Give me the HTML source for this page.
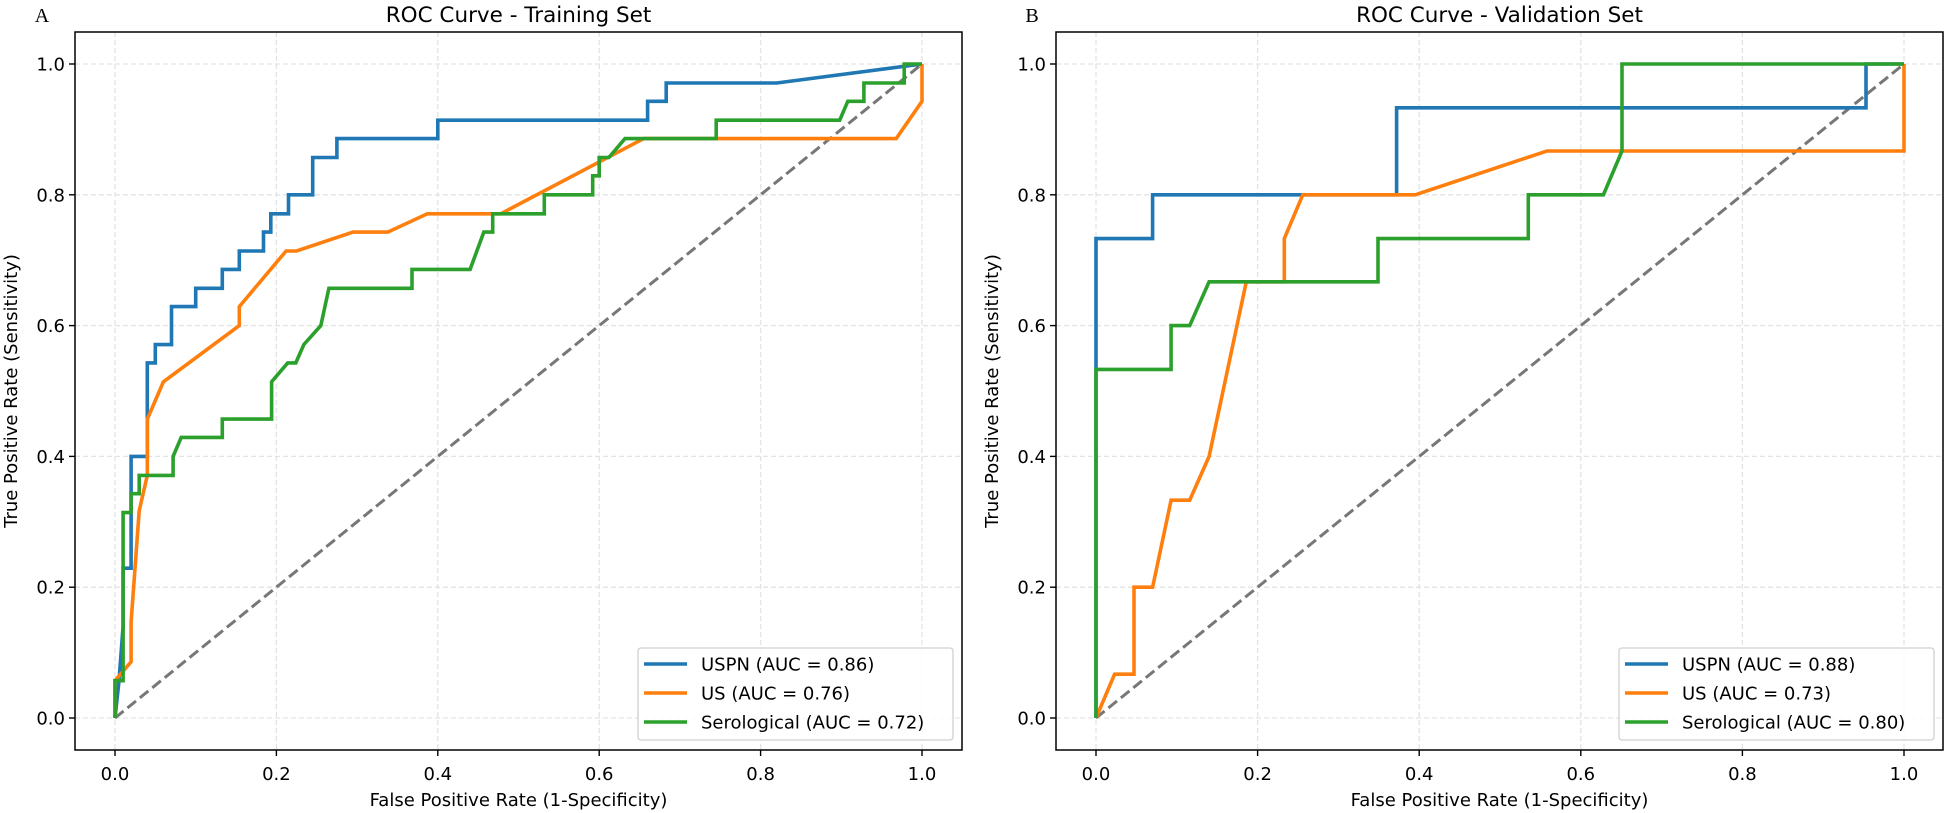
<!DOCTYPE html>
<html><head><meta charset="utf-8"><style>
html,body{margin:0;padding:0;background:#fff;}
svg{display:block;font-family:"DejaVu Sans","Liberation Sans",sans-serif;}
</style></head><body>
<svg id="chart" width="1948" height="813" viewBox="0 0 1948 813" xmlns="http://www.w3.org/2000/svg">
<rect width="1948" height="813" fill="#fff"/>
</svg>
<script>
const ticks = [0, 0.2, 0.4, 0.6, 0.8, 1.0];
const tickLabels = ["0.0", "0.2", "0.4", "0.6", "0.8", "1.0"];
const seriesNames = ["USPN", "US", "Serological"];
const seriesColors = ["#1f77b4", "#ff7f0e", "#2ca02c"];
const panelTitles = ["ROC Curve - Training Set", "ROC Curve - Validation Set"];
const panelLetters = ["A", "B"];
const aucTrain = ["0.86", "0.76", "0.72"];
const aucVal = ["0.88", "0.73", "0.80"];

const trainUSPN_fpr = [0,0.005,0.01,0.01,0.02,0.02,0.04,0.04,0.05,0.05,0.07,0.07,0.10,0.10,0.133,0.133,0.154,0.154,0.184,0.184,0.193,0.193,0.215,0.215,0.245,0.245,0.275,0.275,0.40,0.40,0.66,0.66,0.683,0.683,0.82,1.0];
const trainUSPN_tpr = [0,0.057,0.14,0.229,0.229,0.40,0.40,0.543,0.543,0.571,0.571,0.629,0.629,0.657,0.657,0.686,0.686,0.714,0.714,0.743,0.743,0.771,0.771,0.80,0.80,0.857,0.857,0.886,0.886,0.914,0.914,0.943,0.943,0.971,0.971,1.0];
const trainUS_fpr = [0,0,0.02,0.02,0.03,0.04,0.04,0.06,0.154,0.154,0.212,0.225,0.295,0.338,0.387,0.478,0.655,0.968,1.0,1.0];
const trainUS_tpr = [0,0.057,0.086,0.147,0.317,0.371,0.457,0.514,0.60,0.629,0.714,0.714,0.743,0.743,0.771,0.771,0.886,0.886,0.943,1.0];
const trainSero_fpr = [0,0,0.01,0.01,0.02,0.02,0.03,0.03,0.072,0.072,0.082,0.133,0.133,0.194,0.194,0.214,0.224,0.234,0.255,0.265,0.368,0.368,0.44,0.457,0.468,0.468,0.532,0.532,0.592,0.592,0.60,0.60,0.612,0.632,0.745,0.745,0.898,0.908,0.928,0.928,0.978,0.978,1.0];
const trainSero_tpr = [0,0.057,0.057,0.314,0.314,0.343,0.343,0.371,0.371,0.40,0.429,0.429,0.457,0.457,0.514,0.543,0.543,0.571,0.60,0.657,0.657,0.686,0.686,0.743,0.743,0.771,0.771,0.80,0.80,0.829,0.829,0.857,0.857,0.886,0.886,0.914,0.914,0.943,0.943,0.971,0.971,1.0,1.0];

const valUSPN_fpr = [0,0,0.07,0.07,0.372,0.372,0.953,0.953,1.0];
const valUSPN_tpr = [0,0.733,0.733,0.80,0.80,0.933,0.933,1.0,1.0];
const valUS_fpr = [0,0.023,0.047,0.047,0.07,0.093,0.116,0.14,0.186,0.233,0.233,0.256,0.395,0.558,1.0,1.0];
const valUS_tpr = [0,0.067,0.067,0.20,0.20,0.333,0.333,0.40,0.667,0.667,0.733,0.80,0.80,0.867,0.867,1.0];
const valSero_fpr = [0,0,0.093,0.093,0.116,0.14,0.349,0.349,0.535,0.535,0.628,0.651,0.651,1.0];
const valSero_tpr = [0,0.533,0.533,0.60,0.60,0.667,0.667,0.733,0.733,0.80,0.80,0.867,1.0,1.0];

const svg = document.getElementById('chart');
const NS = 'http://www.w3.org/2000/svg';
function mk(tag, attrs, parent) {
  const e = document.createElementNS(NS, tag);
  for (const k in attrs) e.setAttribute(k, attrs[k]);
  (parent || svg).appendChild(e);
  return e;
}

const panels = [
  {x0: 115, x1: 922, left: 75, right: 962, letterX: 42,
   series: [[trainUSPN_fpr, trainUSPN_tpr], [trainUS_fpr, trainUS_tpr], [trainSero_fpr, trainSero_tpr]], auc: aucTrain},
  {x0: 1096, x1: 1904, left: 1056, right: 1943, letterX: 1032,
   series: [[valUSPN_fpr, valUSPN_tpr], [valUS_fpr, valUS_tpr], [valSero_fpr, valSero_tpr]], auc: aucVal}
];
const Y0 = 718, Y1 = 64, TOP = 32, BOT = 750;

panels.forEach((p, pi) => {
  const sx = v => p.x0 + v * (p.x1 - p.x0);
  const sy = v => Y0 - v * (Y0 - Y1);
  const g = mk('g', {});
  
  

  // grid
  ticks.forEach((t, i) => {
    const gv = mk('line', {x1: sx(t), x2: sx(t), y1: TOP, y2: BOT, stroke: '#e3e3e3', 'stroke-width': 1.3, 'stroke-dasharray': '5,3'}, g);
    
    
    const gh = mk('line', {x1: p.left, x2: p.right, y1: sy(t), y2: sy(t), stroke: '#e3e3e3', 'stroke-width': 1.3, 'stroke-dasharray': '5,3'}, g);
    
    
  });

  // diagonal
  const d = mk('line', {x1: sx(0), y1: sy(0), x2: sx(1), y2: sy(1), stroke: '#777', 'stroke-width': 3, 'stroke-dasharray': '11,5'}, g);
  
  

  // series
  p.series.forEach((s, si) => {
    const pts = s[0].map((fx, k) => sx(fx).toFixed(1) + ',' + sy(s[1][k]).toFixed(1)).join(' ');
    const pl = mk('polyline', {points: pts, fill: 'none', stroke: seriesColors[si], 'stroke-width': 3.6, 'stroke-linejoin': 'miter'}, g);
    
    
  });

  // frame
  const fr = mk('rect', {x: p.left, y: TOP, width: p.right - p.left, height: BOT - TOP, fill: 'none', stroke: '#000', 'stroke-width': 1.5}, g);
  
  

  // ticks + labels
  ticks.forEach((t, i) => {
    mk('line', {x1: sx(t), x2: sx(t), y1: BOT, y2: BOT + 6, stroke: '#000', 'stroke-width': 1.4}, g);
    const xl = mk('text', {x: sx(t), y: 780, 'font-size': 18, 'text-anchor': 'middle', fill: '#000'}, g);
    xl.textContent = tickLabels[i];
    
    
    mk('line', {x1: p.left - 6, x2: p.left, y1: sy(t), y2: sy(t), stroke: '#000', 'stroke-width': 1.4}, g);
    const yl = mk('text', {x: p.left - 10, y: sy(t) + 6.5, 'font-size': 18, 'text-anchor': 'end', fill: '#000'}, g);
    yl.textContent = tickLabels[i];
    
    
  });

  const xt = mk('text', {x: (p.left + p.right) / 2, y: 806, 'font-size': 18, 'text-anchor': 'middle'}, g);
  xt.textContent = 'False Positive Rate (1-Specificity)';
  
  
  const yc = (TOP + BOT) / 2;
  const yx = p.left - 58;
  const yt = mk('text', {x: yx, y: yc, 'font-size': 18, 'text-anchor': 'middle', transform: 'rotate(-90 ' + yx + ' ' + yc + ')'}, g);
  yt.textContent = 'True Positive Rate (Sensitivity)';
  
  

  const ti = mk('text', {x: (p.left + p.right) / 2, y: 22, 'font-size': 21.5, 'text-anchor': 'middle'}, g);
  ti.textContent = panelTitles[pi];
  
  
  const le = mk('text', {x: p.letterX, y: 22, 'font-size': 20, 'text-anchor': 'middle', 'font-family': '"Liberation Serif", serif'}, g);
  le.textContent = panelLetters[pi];
  
  

  // legend
  const lg = mk('g', {}, g);
  
  
  const lx = p.right - 324, ly = 648;
  mk('rect', {x: lx, y: ly, width: 315, height: 92, rx: 3, fill: '#fff', 'fill-opacity': 0.85, stroke: '#d0d0d0', 'stroke-width': 1.3}, lg);
  seriesNames.forEach((n, si) => {
    const ry = ly + 16 + si * 29;
    const ent = mk('g', {}, lg);
    
    
    mk('line', {x1: lx + 6, x2: lx + 49, y1: ry, y2: ry, stroke: seriesColors[si], 'stroke-width': 3.6}, ent);
    const tx = mk('text', {x: lx + 63, y: ry + 6.5, 'font-size': 18}, ent);
    tx.textContent = n + ' (AUC = ' + p.auc[si] + ')';
  });
});
</script>
</body></html>
